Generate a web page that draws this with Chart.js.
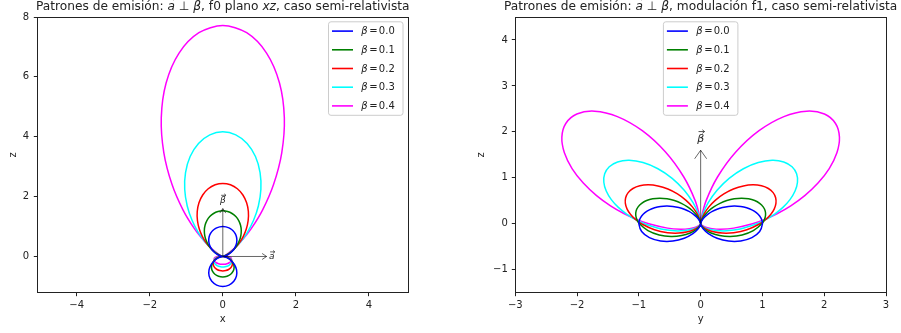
<!DOCTYPE html>
<html>
<head>
<meta charset="utf-8">
<title>Patrones de emisión</title>
<script src="https://cdn.jsdelivr.net/npm/chart.js@4.4.1/dist/chart.umd.min.js"></script>
<style>
  html, body { margin: 0; padding: 0; background: #ffffff; }
  #fig { position: relative; width: 901px; height: 333px; overflow: hidden; }
  #fig canvas { position: absolute; top: 0; }
  #left { left: 0; }
  #right { left: 450px; }
</style>
</head>
<body>
<div id="fig">
  <canvas id="left" width="450" height="333"></canvas>
  <canvas id="right" width="451" height="333"></canvas>
</div>
<script>
const FONT = '"DejaVu Sans", sans-serif';
const INK = '#222222';
Chart.defaults.font.family = FONT;
Chart.defaults.font.size = 10;
Chart.defaults.color = INK;

// velocities of the charge
const betas = [0.0, 0.1, 0.2, 0.3, 0.4];
const lineColors = ['#0000ff', '#008000', '#ff0000', '#00ffff', '#ff00ff'];

// polar angle from the velocity direction (degrees)
const thetaDeg = [0, 5, 10, 15, 20, 25, 30, 35, 40, 45, 50, 55, 60, 65, 70, 75, 80, 85, 90,
                  100, 110, 120, 130, 140, 150, 160, 170, 180];

// f0 radiated intensity in the xz plane, one array per beta
const f0_b00 = [1, 0.9924, 0.9698, 0.933, 0.883, 0.8214, 0.75, 0.671, 0.5868, 0.5, 0.4132, 0.329, 0.25, 0.1786, 0.117, 0.067, 0.0302, 0.0076, 0,
                0.0302, 0.117, 0.25, 0.4132, 0.5868, 0.75, 0.883, 0.9698, 1];
const f0_b01 = [1.5242, 1.5075, 1.4583, 1.3793, 1.2746, 1.1496, 1.0105, 0.8637, 0.7156, 0.5723, 0.4389, 0.3197, 0.2177, 0.1349, 0.0722, 0.0295, 0.006, 0.0002, 0.01,
                0.0675, 0.1597, 0.2686, 0.3796, 0.4817, 0.567, 0.6306, 0.6698, 0.683];
const f0_b02 = [2.4414, 2.4045, 2.2967, 2.1268, 1.9079, 1.6562, 1.3887, 1.1216, 0.869, 0.642, 0.4477, 0.2899, 0.1694, 0.0842, 0.0309, 0.0047, 0.0009, 0.0142, 0.04,
                0.1138, 0.1975, 0.2766, 0.3438, 0.3968, 0.4358, 0.4622, 0.4773, 0.4823];
const f0_b03 = [4.1649, 4.0796, 3.8339, 3.4553, 2.9844, 2.4675, 1.9482, 1.4638, 1.0406, 0.693, 0.4249, 0.2324, 0.1061, 0.0339, 0.0034, 0.0028, 0.022, 0.0529, 0.09,
                0.1654, 0.2294, 0.2767, 0.3086, 0.3285, 0.3401, 0.3463, 0.3493, 0.3501];
const f0_b04 = [7.7161, 7.5034, 6.9003, 5.999, 4.9279, 3.8198, 2.7841, 1.902, 1.2036, 0.6933, 0.3507, 0.1439, 0.0382, 0.0016, 0.0082, 0.0384, 0.0789, 0.1211, 0.16,
                0.2199, 0.2551, 0.2713, 0.2755, 0.2735, 0.269, 0.2646, 0.2614, 0.2603];

// f1 modulation term in the yz plane, one array per beta
const f1_b00 = [0, 0.0076, 0.0302, 0.067, 0.117, 0.1786, 0.25, 0.329, 0.4132, 0.5, 0.5868, 0.671, 0.75, 0.8214, 0.883, 0.933, 0.9698, 0.9924, 1,
                0.9698, 0.883, 0.75, 0.5868, 0.4132, 0.25, 0.117, 0.0302, 0];
const f1_b01 = [0, 0.0141, 0.0556, 0.122, 0.2094, 0.3127, 0.4262, 0.5439, 0.6599, 0.7686, 0.8655, 0.9468, 1.0101, 1.0537, 1.0772, 1.0811, 1.0666, 1.0355, 0.99,
                0.8659, 0.7144, 0.5541, 0.3998, 0.2627, 0.1504, 0.0676, 0.017, 0];
const f1_b02 = [0, 0.0277, 0.1079, 0.2332, 0.3916, 0.5693, 0.7513, 0.924, 1.0759, 1.1983, 1.2863, 1.3381, 1.3548, 1.3395, 1.2968, 1.2322, 1.151, 1.0587, 0.96,
                0.7586, 0.5699, 0.4064, 0.2727, 0.1686, 0.092, 0.04, 0.0098, 0];
const f1_b03 = [0, 0.0582, 0.2243, 0.475, 0.7764, 1.0911, 1.3836, 1.626, 1.8014, 1.9024, 1.931, 1.8959, 1.8096, 1.686, 1.5385, 1.3789, 1.2166, 1.0587, 0.91,
                0.6508, 0.4472, 0.2951, 0.1854, 0.1087, 0.0569, 0.024, 0.0058, 0];
const f1_b04 = [0, 0.1348, 0.511, 1.0541, 1.6625, 2.2357, 2.694, 2.9918, 3.1176, 3.0872, 2.9327, 2.6924, 2.4033, 2.0959, 1.7931, 1.5099, 1.2548, 1.0314, 0.84,
                0.5445, 0.3437, 0.211, 0.1249, 0.0698, 0.0353, 0.0145, 0.0035, 0];

// axis ticks
const xTicksLeft = [-4, -2, 0, 2, 4];
const zTicksLeft = [0, 2, 4, 6, 8];
const yTicksRight = [-3, -2, -1, 0, 1, 2, 3];
const zTicksRight = [-1, 0, 1, 2, 3, 4];

const f0Series = [f0_b00, f0_b01, f0_b02, f0_b03, f0_b04];
const f1Series = [f1_b00, f1_b01, f1_b02, f1_b03, f1_b04];

// A pattern r(theta) is symmetric about the velocity axis: walk theta 0..180 on the
// positive side and back on the negative side, giving one closed loop. The loop is
// started where the pattern passes through the origin so the open ends of the
// spline fall on the pinch point, not on a smooth part of a lobe.
function closedCurve(radii) {
  const loop = [];
  thetaDeg.forEach((t, i) => {
    const a = t * Math.PI / 180;
    loop.push({ x: radii[i] * Math.sin(a), y: radii[i] * Math.cos(a), r: radii[i] });
  });
  for (let i = thetaDeg.length - 2; i >= 1; i--) {
    const a = thetaDeg[i] * Math.PI / 180;
    loop.push({ x: -radii[i] * Math.sin(a), y: radii[i] * Math.cos(a), r: radii[i] });
  }
  let start = 0;
  for (let i = 0; i < thetaDeg.length; i++) if (loop[i].r < loop[start].r) start = i;
  const pts = [];
  for (let k = 0; k <= loop.length; k++) {
    const p = loop[(start + k) % loop.length];
    pts.push({ x: p.x, y: p.y });
  }
  return pts;
}

function tickText(v) { return v < 0 ? '\u2212' + Math.abs(v) : String(v); }

function fontOf(size, italic) { return (italic ? 'italic ' : '') + size + 'px ' + FONT; }

// mixed upright / italic text run; parts = [[text, italic, gapAfter], ...]
function drawParts(ctx, parts, x, y, size, align) {
  const widths = parts.map(p => { ctx.font = fontOf(size, p[1]); return ctx.measureText(p[0]).width + (p[2] || 0); });
  const total = widths.reduce((s, w) => s + w, 0);
  let cx = align === 'center' ? x - total / 2 : x;
  ctx.textAlign = 'left';
  const spans = [];
  parts.forEach((p, i) => {
    ctx.font = fontOf(size, p[1]);
    ctx.fillText(p[0], cx, y);
    spans.push({ x: cx, w: widths[i] - (p[2] || 0) });
    cx += widths[i];
  });
  return spans;
}

function openArrow(ctx, x0, y0, x1, y1, headLen, headHalf) {
  const ang = Math.atan2(y1 - y0, x1 - x0);
  const bx = x1 - headLen * Math.cos(ang), by = y1 - headLen * Math.sin(ang);
  const px = -Math.sin(ang) * headHalf, py = Math.cos(ang) * headHalf;
  ctx.beginPath();
  ctx.moveTo(x0, y0); ctx.lineTo(x1, y1);
  ctx.moveTo(bx + px, by + py); ctx.lineTo(x1, y1); ctx.lineTo(bx - px, by - py);
  ctx.stroke();
}

// little accent arrow drawn over a symbol
function accentArrow(ctx, xc, y, w, size) {
  const x0 = xc - w / 2, x1 = xc + w / 2;
  const h = size * 0.16;
  ctx.save();
  ctx.lineWidth = Math.max(0.7, size * 0.07);
  ctx.beginPath();
  ctx.moveTo(x0, y); ctx.lineTo(x1, y);
  ctx.moveTo(x1 - h * 1.2, y - h); ctx.lineTo(x1, y); ctx.lineTo(x1 - h * 1.2, y + h);
  ctx.stroke();
  ctx.restore();
}

function vectorLabel(ctx, txt, cx, cy, size, rise) {
  ctx.font = fontOf(size, true);
  ctx.textAlign = 'center';
  ctx.textBaseline = 'middle';
  ctx.fillText(txt, cx, cy);
  const w = ctx.measureText(txt).width;
  ctx.strokeStyle = ctx.fillStyle;
  accentArrow(ctx, cx + size * 0.08, cy - rise, Math.max(w * 0.85, size * 0.5), size);
}

function roundedBox(ctx, x, y, w, h, r) {
  ctx.beginPath();
  ctx.moveTo(x + r, y);
  ctx.lineTo(x + w - r, y); ctx.arcTo(x + w, y, x + w, y + r, r);
  ctx.lineTo(x + w, y + h - r); ctx.arcTo(x + w, y + h, x + w - r, y + h, r);
  ctx.lineTo(x + r, y + h); ctx.arcTo(x, y + h, x, y + h - r, r);
  ctx.lineTo(x, y + r); ctx.arcTo(x, y, x + r, y, r);
  ctx.closePath();
}

const decor = {
  id: 'decor',
  afterDatasetsDraw(chart, args, opts) {
    const { ctx, chartArea: ca } = chart;
    const sx = chart.scales.x, sy = chart.scales.y;
    ctx.save();

    // direction arrows
    ctx.strokeStyle = 'rgba(0,0,0,0.6)';
    ctx.lineWidth = 1;
    opts.arrows.forEach(a => {
      openArrow(ctx,
        sx.getPixelForValue(a.from[0]), sy.getPixelForValue(a.from[1]),
        sx.getPixelForValue(a.to[0]), sy.getPixelForValue(a.to[1]), a.head, a.half);
    });
    ctx.fillStyle = INK;
    opts.labels.forEach(l => {
      vectorLabel(ctx, l.text, sx.getPixelForValue(l.at[0]), sy.getPixelForValue(l.at[1]), l.size, l.rise);
    });

    // axes frame
    ctx.strokeStyle = INK;
    ctx.lineWidth = 1;
    const L = Math.floor(ca.left) + 0.5, R = Math.floor(ca.right) + 0.5;
    const T = Math.floor(ca.top) + 0.5, B = Math.floor(ca.bottom) + 0.5;
    ctx.strokeRect(L, T, R - L, B - T);

    // legend
    const W = 74.5, H = 93.5;
    const lx = opts.legendAnchor === 'right' ? ca.right - 5.3 - W : (ca.left + ca.right) / 2 - W / 2;
    const ly = ca.top + 4.8;
    roundedBox(ctx, lx, ly, W, H, 2.5);
    ctx.fillStyle = 'rgba(255,255,255,0.8)';
    ctx.fill();
    ctx.strokeStyle = '#cccccc';
    ctx.stroke();
    chart.data.datasets.forEach((ds, i) => {
      const cy = ly + 9.3 + i * 18.7;
      ctx.strokeStyle = ds.borderColor;
      ctx.lineWidth = 1.6;
      ctx.beginPath();
      ctx.moveTo(lx + 3.5, cy); ctx.lineTo(lx + 24.5, cy);
      ctx.stroke();
      ctx.fillStyle = INK;
      ctx.textBaseline = 'middle';
      drawParts(ctx, [['\u03b2', true, 1.6], ['=', false, 1.2], [betas[i].toFixed(1), false]], lx + 32.8, cy + 0.5, 10, 'left');
    });

    // title
    ctx.fillStyle = INK;
    ctx.textBaseline = 'alphabetic';
    const spans = drawParts(ctx, opts.title, (ca.left + ca.right) / 2, 9.6, 12.2, 'center');
    ctx.strokeStyle = INK;
    opts.title.forEach((p, i) => {
      if (p[3]) accentArrow(ctx, spans[i].x + spans[i].w / 2 + 1, 9.6 - 11.5, Math.max(spans[i].w, 6), 12);
    });

    ctx.restore();
  }
};

function xAxis(min, max, ticks, label, height) {
  return {
    type: 'linear', position: 'bottom', min, max,
    afterBuildTicks: s => { s.ticks = ticks.map(v => ({ value: v })); },
    afterFit: s => { s.height = height; },
    grid: { display: true, drawOnChartArea: false, drawTicks: true, tickLength: 3.5, color: INK, lineWidth: 1 },
    border: { display: false },
    ticks: { padding: 3.2, color: INK, font: { size: 10 }, maxRotation: 0, autoSkip: false, callback: v => tickText(v) },
    title: { display: true, text: label, color: INK, font: { size: 10 }, padding: { top: 0, bottom: 7.9 } }
  };
}

function yAxis(min, max, ticks, label, width, tickPad, titlePad) {
  return {
    type: 'linear', position: 'left', min, max,
    afterBuildTicks: s => { s.ticks = ticks.map(v => ({ value: v })); },
    afterFit: s => { s.width = width; },
    grid: { display: true, drawOnChartArea: false, drawTicks: true, tickLength: 3.5, color: INK, lineWidth: 1 },
    border: { display: false },
    ticks: { padding: tickPad, color: INK, font: { size: 10 }, autoSkip: false, callback: v => tickText(v) },
    title: { display: true, text: label, color: INK, font: { size: 10 }, padding: { top: titlePad, bottom: 0 } }
  };
}

function makePlot(id, cfg) {
  return new Chart(document.getElementById(id), {
    type: 'scatter',
    data: {
      datasets: cfg.series.map((r, i) => ({
        label: '\u03b2 = ' + betas[i].toFixed(1),
        data: closedCurve(r),
        showLine: true,
        borderColor: lineColors[i],
        backgroundColor: lineColors[i],
        borderWidth: 1.5,
        pointRadius: 0,
        pointHoverRadius: 0,
        tension: 0.3,
        fill: false
      }))
    },
    options: {
      responsive: false,
      animation: false,
      events: [],
      layout: { padding: { left: 0, top: 17, right: cfg.padRight, bottom: 0 } },
      plugins: {
        legend: { display: false },
        tooltip: { enabled: false },
        decor: cfg.decor
      },
      scales: {
        x: xAxis(cfg.xRange[0], cfg.xRange[1], cfg.xTicks, cfg.xLabel, 40.3),
        y: yAxis(cfg.yRange[0], cfg.yRange[1], cfg.yTicks, 'z', cfg.yWidth, cfg.yTickPad, cfg.yTitlePad)
      }
    },
    plugins: [decor]
  });
}

makePlot('left', {
  series: f0Series,
  xRange: [-5.08, 5.08], yRange: [-1.21, 8],
  xTicks: xTicksLeft, yTicks: zTicksLeft,
  xLabel: 'x', yWidth: 37.3, yTickPad: 4.8, yTitlePad: 7.1, padRight: 41.7,
  decor: {
    legendAnchor: 'right',
    arrows: [
      { from: [0, 0], to: [0, 1.6], head: 4.5, half: 3 },
      { from: [0, 0], to: [1.2, 0], head: 4.5, half: 3 }
    ],
    labels: [
      { text: '\u03b2', at: [0, 1.85], size: 9, rise: 5.8 },
      { text: 'a', at: [1.34, 0], size: 9, rise: 4.6 }
    ],
    title: [['Patrones de emisión: ', false], ['a', true, 0, true], [' \u22a5 ', false], ['\u03b2', true, 0, true],
            [', f0 plano ', false], ['xz', true], [', caso semi-relativista', false]]
  }
});

makePlot('right', {
  series: f1Series,
  xRange: [-3, 3], yRange: [-1.5, 4.5],
  xTicks: yTicksRight, yTicks: zTicksRight,
  xLabel: 'y', yWidth: 65.3, yTickPad: 4, yTitlePad: 25.6, padRight: 15,
  decor: {
    legendAnchor: 'center',
    arrows: [
      { from: [0, 0], to: [0, 1.6], head: 8.5, half: 6 }
    ],
    labels: [
      { text: '\u03b2', at: [0, 1.85], size: 11, rise: 7.2 }
    ],
    title: [['Patrones de emisión: ', false], ['a', true, 0, true], [' \u22a5 ', false], ['\u03b2', true, 0, true],
            [', modulación f1, caso semi-relativista', false]]
  }
});
</script>
</body>
</html>
